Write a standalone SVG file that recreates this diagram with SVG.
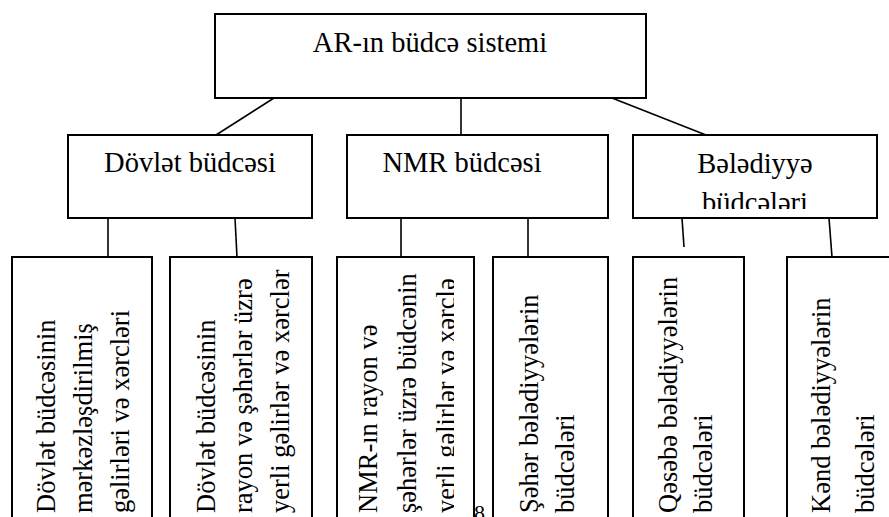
<svg xmlns="http://www.w3.org/2000/svg" width="889" height="517" viewBox="0 0 889 517">
<style>
.box{fill:#fff;stroke:#000;stroke-width:2}
.con{stroke:#000;stroke-width:1.6;fill:none}
.h{font-family:"Liberation Serif","DejaVu Serif",serif;font-size:28.5px;fill:#000;text-anchor:middle}
.v{font-family:"Liberation Serif","DejaVu Serif",serif;font-size:26.5px;fill:#000}
</style>
<defs>
<clipPath id="clipB"><rect x="633" y="135" width="244" height="74"/></clipPath>
<clipPath id="clipN"><rect x="337" y="257" width="117" height="260"/></clipPath>
</defs>
<g id="connectors">
<line class="con" x1="274" y1="98" x2="216" y2="135"/>
<line class="con" x1="461" y1="98" x2="461" y2="135"/>
<line class="con" x1="612" y1="98" x2="706" y2="135"/>
<line class="con" x1="108" y1="218" x2="108" y2="257"/>
<line class="con" x1="235" y1="218" x2="237" y2="257"/>
<line class="con" x1="401" y1="218" x2="401" y2="257"/>
<line class="con" x1="528" y1="218" x2="528" y2="257"/>
<line class="con" x1="682" y1="218" x2="684" y2="247"/>
<line class="con" x1="829" y1="218" x2="832" y2="257"/>
</g>
<g id="root">
<rect class="box" x="215" y="14" width="431" height="84"/>
<text class="h" x="430" y="52">AR-ın büdcə sistemi</text>
</g>
<g id="dovlet">
<rect class="box" x="68" y="135" width="244" height="83"/>
<text class="h" x="190" y="172">Dövlət büdcəsi</text>
</g>
<g id="nmr">
<rect class="box" x="347" y="135" width="261" height="83"/>
<text class="h" x="462" y="172">NMR büdcəsi</text>
</g>
<g id="beledisse">
<rect class="box" x="633" y="135" width="244" height="83"/>
<text class="h" x="755" y="173">Bələdiyyə</text>
<text class="h" x="755" y="212" clip-path="url(#clipB)">büdcələri</text>
</g>
<g id="d1">
<rect class="box" x="12" y="257" width="140" height="280"/>
<text class="v" transform="translate(55,513) rotate(-90)"><tspan x="0" y="0">Dövlət büdcəsinin</tspan><tspan x="0" y="37">mərkəzləşdirilmiş</tspan><tspan x="0" y="74">gəlirləri və xərcləri</tspan></text>
</g>
<g id="d2">
<rect class="box" x="170" y="257" width="142" height="280"/>
<text class="v" transform="translate(215,513) rotate(-90)"><tspan x="0" y="0">Dövlət büdcəsinin</tspan><tspan x="0" y="37">rayon və şəhərlər üzrə</tspan><tspan x="0" y="74">yerli gəlirlər və xərclər</tspan></text>
</g>
<g id="n1">
<rect class="box" x="337" y="257" width="137" height="280"/>
<g clip-path="url(#clipN)">
<text class="v" transform="translate(377,513) rotate(-90)"><tspan x="0" y="0">NMR-ın rayon və</tspan><tspan x="0" y="39">şəhərlər üzrə büdcənin</tspan><tspan x="0" y="78">yerli gəlirlər və xərclə</tspan></text>
</g>
</g>
<g id="n2">
<rect class="box" x="493" y="257" width="115" height="280"/>
<text class="v" transform="translate(538,513) rotate(-90)"><tspan x="0" y="0">Şəhər bələdiyyələrin</tspan><tspan x="0" y="36">büdcələri</tspan></text>
</g>
<g id="b1">
<rect class="box" x="633" y="257" width="111" height="280"/>
<text class="v" transform="translate(677,513) rotate(-90)"><tspan x="0" y="0">Qəsəbə bələdiyyələrin</tspan><tspan x="0" y="35">büdcələri</tspan></text>
</g>
<g id="b2">
<rect class="box" x="787" y="257" width="105" height="280"/>
<text class="v" transform="translate(830,513) rotate(-90)"><tspan x="0" y="0">Kənd bələdiyyələrin</tspan><tspan x="0" y="44">büdcələri</tspan></text>
</g>
<text x="474" y="520" style="font-family:'Liberation Serif',serif;font-size:22px;fill:#000">8</text>
</svg>
